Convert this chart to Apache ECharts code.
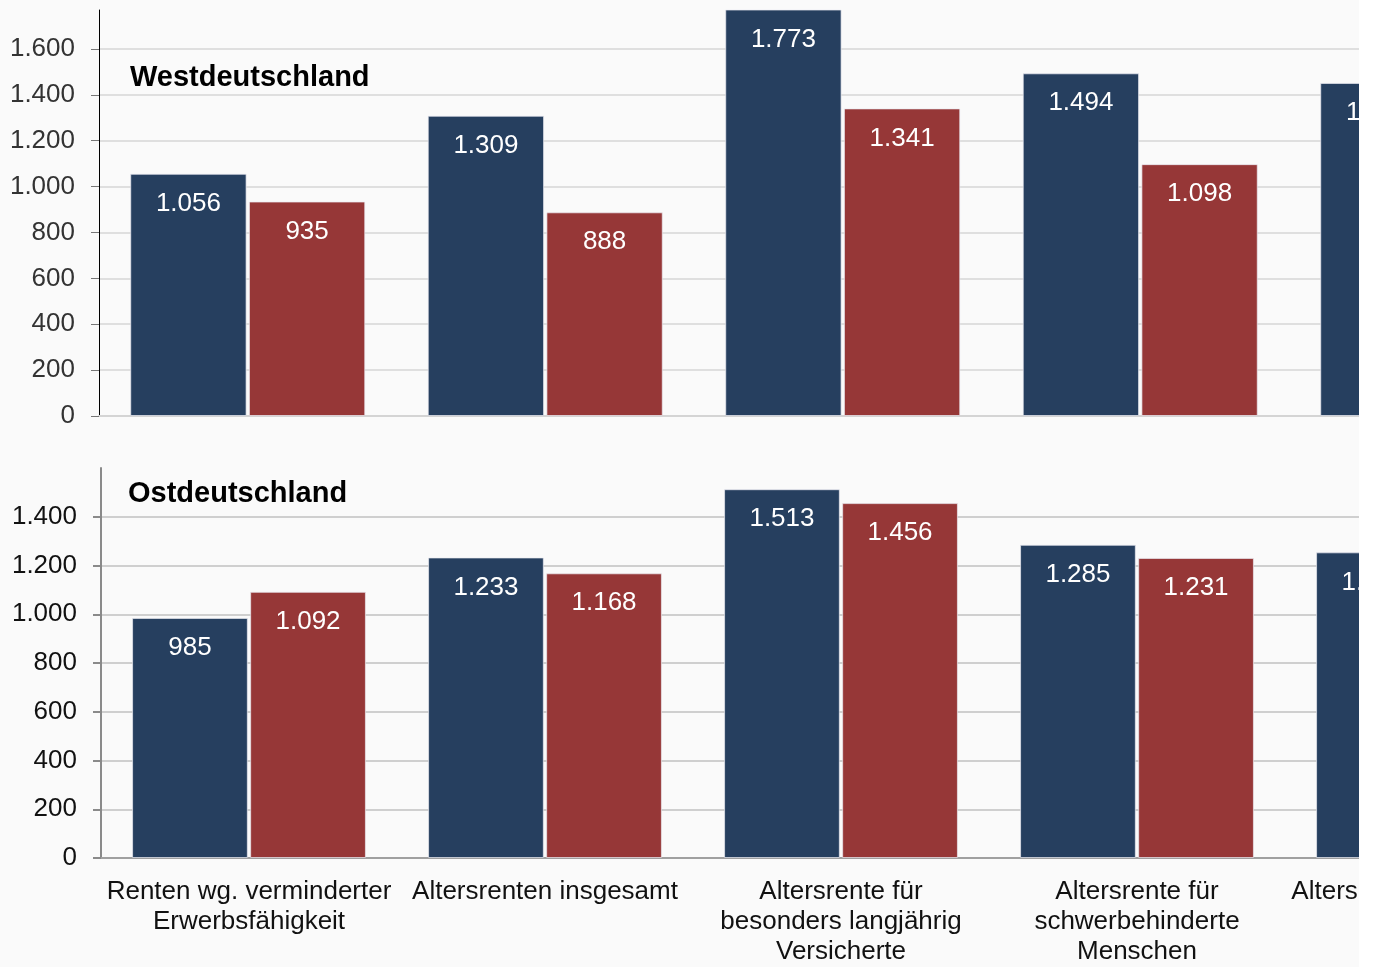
<!DOCTYPE html>
<html>
<head>
<meta charset="utf-8">
<script src="https://cdn.jsdelivr.net/npm/echarts@6/dist/echarts.min.js"></script>
<style>
  html, body { margin: 0; padding: 0; background: #ffffff; overflow: hidden; }
  #wrap { position: absolute; left: 0; top: 0; width: 1359px; height: 967px; overflow: hidden; background: #fafafa; }
  #chart { position: absolute; left: 0; top: 0; width: 1600px; height: 967px; }
</style>
</head>
<body>
<div id="wrap"><div id="chart"></div></div>
<script>
var categories = [
  'Renten wg. verminderter\nErwerbsfähigkeit',
  'Altersrenten insgesamt',
  'Altersrente für\nbesonders langjährig\nVersicherte',
  'Altersrente für\nschwerbehinderte\nMenschen',
  'Altersrente für langjährig\nVersicherte'
];
// Westdeutschland
var westBlue = [1056, 1309, 1773, 1494, 1452];
var westRed = [935, 888, 1341, 1098, 1080];
// Ostdeutschland
var eastBlue = [985, 1233, 1513, 1285, 1254];
var eastRed = [1092, 1168, 1456, 1231, 1170];

var navy = '#263f5f';
var red = '#963737';

function de(v) {
  v = Math.round(v);
  if (v < 1000) return String(v);
  return Math.floor(v / 1000) + '.' + String(v % 1000).padStart(3, '0');
}

var barLabel = {
  show: true,
  position: 'insideTop',
  distance: 17,
  color: '#ffffff',
  fontSize: 26,
  fontFamily: 'Liberation Sans, Arial, sans-serif',
  formatter: function (p) { return de(p.value); }
};

function bar(name, data, color, idx) {
  return {
    name: name,
    type: 'bar',
    xAxisIndex: idx,
    yAxisIndex: idx,
    data: data,
    barGap: '2%',
    barCategoryGap: '21%',
    itemStyle: { color: color, borderColor: 'rgba(235,235,242,0.7)', borderWidth: 1 },
    label: barLabel
  };
}

var dom = echarts.init(document.getElementById('chart'));

var option = {
  animation: false,
  textStyle: { fontFamily: 'Liberation Sans, Arial, sans-serif' },
  title: [
    { text: 'Westdeutschland', left: 125, top: 58,
      textStyle: { fontSize: 29, fontWeight: 'bold', color: '#000' } },
    { text: 'Ostdeutschland', left: 123, top: 474,
      textStyle: { fontSize: 29, fontWeight: 'bold', color: '#000' } }
  ],
  grid: [
    { left: 99, top: 10, width: 1487.5, height: 406 },
    { left: 101, top: 468, width: 1480, height: 391 }
  ],
  xAxis: [
    {
      type: 'category', gridIndex: 0, data: categories,
      axisLine: { lineStyle: { color: '#d4d4d4', width: 2 } },
      axisTick: { length: 7, lineStyle: { color: '#bbbbbb' } },
      axisLabel: { show: false }
    },
    {
      type: 'category', gridIndex: 1, data: categories,
      axisLine: { lineStyle: { color: '#a0a0a0', width: 2 } },
      axisTick: { length: 7, lineStyle: { color: '#a0a0a0', width: 2 } },
      axisLabel: { interval: 0, fontSize: 26, color: '#111', lineHeight: 30, margin: 19,
        overflow: 'none', hideOverlap: false }
    }
  ],
  yAxis: [
    {
      type: 'value', gridIndex: 0, min: 0, max: 1770, interval: 200,
      axisLine: { show: true, lineStyle: { color: '#000', width: 1 } },
      axisTick: { show: true, length: 8, lineStyle: { color: '#777' } },
      axisLabel: { fontSize: 26, color: '#333', margin: 24, showMaxLabel: false, formatter: de },
      splitLine: { showMaxLine: false, lineStyle: { color: '#d6d6d6', width: 1.5 } }
    },
    {
      type: 'value', gridIndex: 1, min: 0, max: 1600, interval: 200,
      axisLine: { show: true, lineStyle: { color: '#8a8a8a', width: 2 } },
      axisTick: { show: true, length: 8, lineStyle: { color: '#8a8a8a', width: 2 } },
      axisLabel: { fontSize: 26, color: '#111', margin: 24, showMaxLabel: false, formatter: de },
      splitLine: { showMaxLine: false, lineStyle: { color: '#cfcfcf', width: 2 } }
    }
  ],
  series: [
    bar('West blau', westBlue, navy, 0),
    bar('West rot', westRed, red, 0),
    bar('Ost blau', eastBlue, navy, 1),
    bar('Ost rot', eastRed, red, 1)
  ]
};

dom.setOption(option);
</script>
</body>
</html>
